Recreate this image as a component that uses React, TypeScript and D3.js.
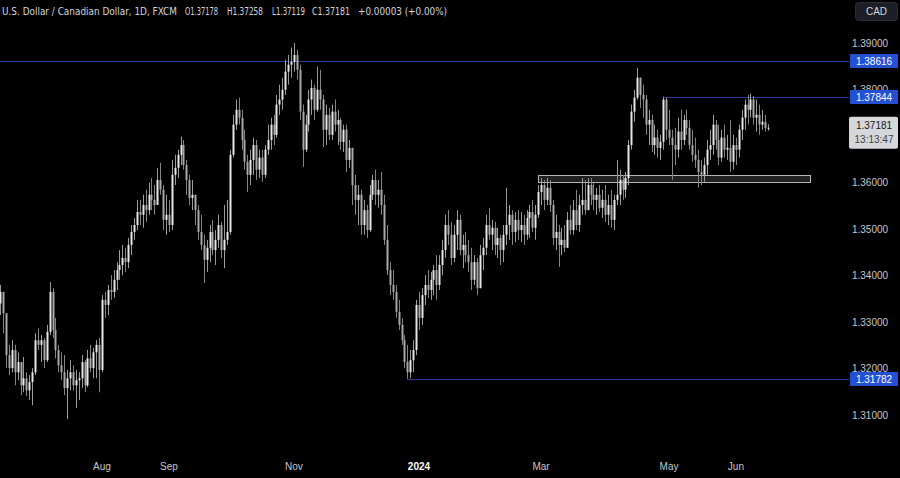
import React from "react";
import * as d3 from "d3";

// ---- Data: USD/CAD daily candles ----
const firstOpen = 1.334;
const closes = [
  1.3365,1.3319,1.3229,1.3201,1.3240,1.3192,1.3214,1.3164,1.3179,1.3153,
  1.3171,1.3192,1.3261,1.3251,1.3261,1.3218,1.3279,1.3365,1.3283,1.3240,
  1.3207,1.3192,1.3158,1.3179,1.3192,1.3164,1.3175,1.3179,1.3214,1.3164,
  1.3222,1.3201,1.3235,1.3251,1.3197,1.3348,1.3337,1.3369,1.3365,1.3391,
  1.3412,1.3423,1.3438,1.3429,1.3466,1.3494,1.3509,1.3537,1.3531,1.3552,
  1.3541,1.3574,1.3563,1.3552,1.3606,1.3585,1.3520,1.3531,1.3509,1.3617,
  1.3632,1.3660,1.3681,1.3638,1.3606,1.3567,1.3574,1.3541,1.3494,1.3466,
  1.3434,1.3460,1.3494,1.3455,1.3477,1.3509,1.3455,1.3477,1.3494,1.3660,
  1.3725,1.3757,1.3740,1.3692,1.3645,1.3617,1.3649,1.3681,1.3628,1.3654,
  1.3617,1.3671,1.3692,1.3725,1.3703,1.3768,1.3779,1.3800,1.3839,1.3854,
  1.3860,1.3875,1.3843,1.3753,1.3671,1.3725,1.3779,1.3804,1.3757,1.3800,
  1.3779,1.3714,1.3746,1.3703,1.3753,1.3725,1.3735,1.3688,1.3714,1.3649,
  1.3675,1.3595,1.3563,1.3574,1.3509,1.3541,1.3498,1.3574,1.3606,1.3574,
  1.3585,1.3552,1.3477,1.3412,1.3380,1.3365,1.3322,1.3294,1.3261,1.3214,
  1.3192,1.3218,1.3240,1.3337,1.3309,1.3358,1.3380,1.3369,1.3391,1.3412,
  1.3380,1.3423,1.3455,1.3509,1.3488,1.3438,1.3488,1.3520,1.3455,1.3466,
  1.3444,1.3429,1.3391,1.3429,1.3373,1.3444,1.3460,1.3509,1.3488,1.3503,
  1.3466,1.3481,1.3455,1.3488,1.3509,1.3531,1.3494,1.3520,1.3498,1.3509,
  1.3488,1.3524,1.3537,1.3503,1.3531,1.3580,1.3595,1.3563,1.3589,1.3552,
  1.3481,1.3494,1.3466,1.3477,1.3460,1.3520,1.3498,1.3541,1.3509,1.3552,
  1.3563,1.3541,1.3595,1.3574,1.3563,1.3574,1.3546,1.3563,1.3531,1.3552,
  1.3520,1.3563,1.3574,1.3606,1.3585,1.3610,1.3681,1.3753,1.3783,1.3826,
  1.3789,1.3779,1.3725,1.3735,1.3681,1.3697,1.3675,1.3688,1.3779,1.3714,
  1.3697,1.3681,1.3671,1.3710,1.3692,1.3735,1.3718,1.3681,1.3660,1.3649,
  1.3623,1.3617,1.3638,1.3671,1.3681,1.3725,1.3692,1.3654,1.3697,1.3671,
  1.3675,1.3645,1.3681,1.3671,1.3714,1.3740,1.3768,1.3757,1.3779,1.3740,
  1.3746,1.3725,1.3731,1.37178,1.37181,
];
const highs = [
  1.3380,1.3354,1.3283,1.3251,1.3261,1.3251,1.3235,1.3201,1.3225,1.3192,
  1.3186,1.3201,1.3276,1.3287,1.3272,1.3266,1.3294,1.3386,1.3373,1.3309,
  1.3251,1.3235,1.3229,1.3197,1.3218,1.3207,1.3197,1.3192,1.3229,1.3218,
  1.3240,1.3251,1.3244,1.3261,1.3266,1.3358,1.3365,1.3380,1.3401,1.3412,
  1.3429,1.3455,1.3466,1.3460,1.3481,1.3509,1.3524,1.3563,1.3563,1.3574,
  1.3585,1.3600,1.3610,1.3595,1.3632,1.3643,1.3595,1.3574,1.3563,1.3649,
  1.3660,1.3671,1.3699,1.3692,1.3649,1.3617,1.3606,1.3574,1.3552,1.3531,
  1.3488,1.3477,1.3509,1.3520,1.3498,1.3531,1.3516,1.3552,1.3563,1.3671,
  1.3746,1.3779,1.3783,1.3757,1.3714,1.3660,1.3671,1.3697,1.3692,1.3671,
  1.3671,1.3681,1.3725,1.3740,1.3746,1.3789,1.3811,1.3826,1.3865,1.3875,
  1.3891,1.3901,1.3886,1.3854,1.3768,1.3746,1.3800,1.3822,1.3811,1.3850,
  1.3843,1.3789,1.3768,1.3761,1.3768,1.3779,1.3757,1.3740,1.3725,1.3725,
  1.3692,1.3660,1.3617,1.3595,1.3585,1.3563,1.3552,1.3595,1.3617,1.3628,
  1.3606,1.3623,1.3574,1.3509,1.3429,1.3412,1.3380,1.3348,1.3309,1.3272,
  1.3251,1.3240,1.3261,1.3348,1.3365,1.3373,1.3401,1.3412,1.3408,1.3423,
  1.3444,1.3444,1.3477,1.3531,1.3541,1.3516,1.3509,1.3541,1.3531,1.3488,
  1.3494,1.3477,1.3460,1.3444,1.3438,1.3466,1.3481,1.3531,1.3546,1.3520,
  1.3516,1.3503,1.3488,1.3509,1.3589,1.3552,1.3541,1.3537,1.3541,1.3537,
  1.3531,1.3541,1.3552,1.3563,1.3552,1.3595,1.3610,1.3606,1.3610,1.3606,
  1.3563,1.3531,1.3509,1.3503,1.3509,1.3537,1.3552,1.3563,1.3585,1.3574,
  1.3610,1.3606,1.3610,1.3610,1.3602,1.3589,1.3595,1.3585,1.3595,1.3574,
  1.3585,1.3574,1.3649,1.3628,1.3617,1.3623,1.3692,1.3768,1.3800,1.3847,
  1.3826,1.3811,1.3789,1.3757,1.3746,1.3725,1.3714,1.3703,1.3785,1.3783,
  1.3757,1.3714,1.3718,1.3740,1.3757,1.3746,1.3757,1.3735,1.3714,1.3697,
  1.3671,1.3649,1.3654,1.3692,1.3714,1.3746,1.3735,1.3725,1.3714,1.3725,
  1.3703,1.3735,1.3703,1.3697,1.3725,1.3757,1.3779,1.3789,1.3792,1.3787,
  1.3779,1.3768,1.3757,1.3746,1.37258,
];
const lows = [
  1.3315,1.3276,1.3201,1.3186,1.3192,1.3164,1.3175,1.3143,1.3149,1.3141,
  1.3132,1.3121,1.3186,1.3240,1.3214,1.3201,1.3214,1.3272,1.3266,1.3222,
  1.3192,1.3175,1.3143,1.3091,1.3153,1.3153,1.3115,1.3132,1.3158,1.3149,
  1.3160,1.3192,1.3179,1.3179,1.3149,1.3192,1.3309,1.3315,1.3348,1.3352,
  1.3369,1.3391,1.3401,1.3408,1.3416,1.3444,1.3477,1.3498,1.3509,1.3503,
  1.3516,1.3531,1.3541,1.3531,1.3552,1.3574,1.3498,1.3488,1.3494,1.3498,
  1.3595,1.3610,1.3638,1.3628,1.3574,1.3552,1.3541,1.3509,1.3477,1.3455,
  1.3384,1.3408,1.3429,1.3444,1.3423,1.3460,1.3438,1.3416,1.3466,1.3488,
  1.3654,1.3714,1.3725,1.3671,1.3628,1.3580,1.3595,1.3617,1.3606,1.3610,
  1.3602,1.3610,1.3660,1.3671,1.3681,1.3697,1.3746,1.3757,1.3789,1.3811,
  1.3826,1.3839,1.3822,1.3735,1.3634,1.3666,1.3710,1.3746,1.3735,1.3753,
  1.3757,1.3677,1.3681,1.3692,1.3692,1.3710,1.3681,1.3671,1.3666,1.3623,
  1.3632,1.3552,1.3531,1.3509,1.3488,1.3488,1.3481,1.3494,1.3563,1.3552,
  1.3546,1.3531,1.3466,1.3401,1.3358,1.3348,1.3309,1.3283,1.3251,1.3201,
  1.3178,1.3179,1.3192,1.3229,1.3283,1.3294,1.3337,1.3352,1.3348,1.3358,
  1.3348,1.3369,1.3401,1.3438,1.3466,1.3423,1.3429,1.3455,1.3444,1.3416,
  1.3429,1.3408,1.3369,1.3380,1.3358,1.3380,1.3412,1.3444,1.3477,1.3455,
  1.3444,1.3438,1.3423,1.3429,1.3466,1.3477,1.3466,1.3472,1.3477,1.3472,
  1.3466,1.3477,1.3481,1.3494,1.3477,1.3524,1.3552,1.3541,1.3552,1.3537,
  1.3466,1.3455,1.3419,1.3444,1.3451,1.3466,1.3488,1.3488,1.3498,1.3494,
  1.3531,1.3531,1.3541,1.3552,1.3541,1.3531,1.3537,1.3524,1.3516,1.3509,
  1.3503,1.3498,1.3552,1.3552,1.3563,1.3567,1.3595,1.3671,1.3731,1.3779,
  1.3761,1.3740,1.3703,1.3681,1.3666,1.3660,1.3654,1.3649,1.3671,1.3692,
  1.3681,1.3606,1.3638,1.3654,1.3671,1.3681,1.3703,1.3671,1.3645,1.3632,
  1.3589,1.3595,1.3602,1.3617,1.3649,1.3660,1.3671,1.3638,1.3645,1.3654,
  1.3649,1.3623,1.3628,1.3638,1.3654,1.3692,1.3714,1.3725,1.3740,1.3725,
  1.3710,1.3703,1.3714,1.3710,1.37119,
];

const priceTicks = [1.39, 1.38, 1.36, 1.35, 1.34, 1.33, 1.32, 1.31];
const monthLabels = ["Aug", "Sep", "Nov", "2024", "Mar", "May", "Jun"];
const monthBarIndex = [35, 58, 101, 144, 186, 230, 253];

const levelHigh = 1.38616;
const levelMid = 1.37844;
const levelLow = 1.31782;
const levelMidStart = 228;
const levelLowStart = 140;
const zoneTop = 1.3616;
const zoneBottom = 1.3601;
const zoneStart = 185;
const zoneEnd = 278.5;

const header = [
  "U.S. Dollar / Canadian Dollar, 1D, FXCM",
  "O1.37178",
  "H1.37258",
  "L1.37119",
  "C1.37181",
  "+0.00003 (+0.00%)",
];
const lastPrice = "1.37181";
const countdown = "13:13:47";
const currency = "CAD";

const W = 900;
const H = 478;

export default function App() {
  const n = Math.min(closes.length, highs.length, lows.length);
  const x = d3.scaleLinear().domain([0, n - 1]).range([0.22, 767.9]);
  const y = d3.scaleLinear().domain([1.36, 1.39]).range([182.7, 43.3]);
  const fmt = d3.format(".5f");

  const bars = d3.range(n).map((i) => {
    const o = i === 0 ? firstOpen : closes[i - 1];
    const c = closes[i];
    return { i, o, c, h: Math.max(highs[i], o, c), l: Math.min(lows[i], o, c) };
  });

  const hdrX = [2, 185, 227, 272, 312, 358];
  const hdrW = [175, 33, 36, 33, 38, 89];
  const lineColor = "#2c3a9e";
  const axisX = 849;

  return (
    <div style={{ width: W, height: H, background: "#000" }}>
      <style>{`html,body{margin:0;padding:0;background:#000;}`}</style>
      <svg width={W} height={H} style={{ display: "block", background: "#000" }}
        fontFamily="'Liberation Sans', 'DejaVu Sans', sans-serif">
        {/* horizontal levels */}
        <line x1={0} x2={axisX} y1={Math.round(y(levelHigh)) + 0.5} y2={Math.round(y(levelHigh)) + 0.5} stroke={lineColor} strokeWidth={1} />
        <line x1={x(levelMidStart)} x2={axisX} y1={Math.round(y(levelMid)) + 0.5} y2={Math.round(y(levelMid)) + 0.5} stroke={lineColor} strokeWidth={1} />
        <line x1={x(levelLowStart)} x2={axisX} y1={Math.round(y(levelLow)) + 0.5} y2={Math.round(y(levelLow)) + 0.5} stroke={lineColor} strokeWidth={1} />

        {/* zone */}
        <rect x={Math.round(x(zoneStart)) + 0.5} y={Math.round(y(zoneTop)) + 0.5}
          width={Math.round(x(zoneEnd) - x(zoneStart))} height={Math.round(y(zoneBottom) - y(zoneTop))}
          fill="rgba(255,255,255,0.13)" stroke="#b4b4b4" strokeWidth={1} />

        {/* candles */}
        {bars.map((b) => {
          const cx = Math.round(x(b.i));
          const up = b.c >= b.o;
          const col = up ? "#e6e6e6" : "#a8a8a8";
          const top = y(Math.max(b.o, b.c));
          const bot = y(Math.min(b.o, b.c));
          return (
            <g key={b.i}>
              <line x1={cx + 0.5} x2={cx + 0.5} y1={y(b.h)} y2={y(b.l)} stroke={up ? "#9c9c9c" : "#848484"} strokeWidth={1} />
              <rect x={cx - 0.5} y={top} width={2} height={Math.max(1, bot - top)} fill={col} />
            </g>
          );
        })}

        {/* header */}
        {header.map((t, k) => (
          <text key={k} x={hdrX[k]} y={15} fontSize={10.5} fill="#d1d4dc"
            fontFamily="'Liberation Sans Narrow', 'DejaVu Sans Condensed', sans-serif"
            textLength={hdrW[k]} lengthAdjust="spacingAndGlyphs">{t}</text>
        ))}

        {/* price axis ticks */}
        {priceTicks.map((p) => (
          <text key={p} x={870} y={y(p) + 3.5} fontSize={10} fill="#c4c6cc" textAnchor="middle">{fmt(p)}</text>
        ))}

        {/* level labels */}
        {[levelHigh, levelMid, levelLow].map((p) => (
          <g key={p}>
            <rect x={850} y={Math.round(y(p)) - 7} width={48} height={14} fill="#2450d4" rx={1} />
            <text x={874} y={Math.round(y(p)) + 3.5} fontSize={10} fill="#ffffff" textAnchor="middle">{fmt(p)}</text>
          </g>
        ))}

        {/* last price label */}
        <rect x={849} y={y(+lastPrice) - 11} width={49} height={32} fill="#d6d7db" rx={2} />
        <text x={874} y={y(+lastPrice) + 1} fontSize={10} fill="#131722" textAnchor="middle">{lastPrice}</text>
        <text x={874} y={y(+lastPrice) + 15} fontSize={10} fill="#3c3f48" textAnchor="middle">{countdown}</text>

        {/* currency box */}
        <rect x={855.5} y={2.5} width={42} height={18} rx={3} fill="#1c1f27" stroke="#2a2e39" />
        <text x={876.5} y={15} fontSize={10} fill="#d1d4dc" textAnchor="middle">{currency}</text>

        {/* time axis */}
        {monthLabels.map((m, k) => (
          <text key={m} x={x(monthBarIndex[k])} y={470} fontSize={10} textAnchor="middle"
            fill={m === "2024" ? "#ffffff" : "#c4c6cc"} fontWeight={m === "2024" ? "bold" : "normal"}>{m}</text>
        ))}
      </svg>
    </div>
  );
}
